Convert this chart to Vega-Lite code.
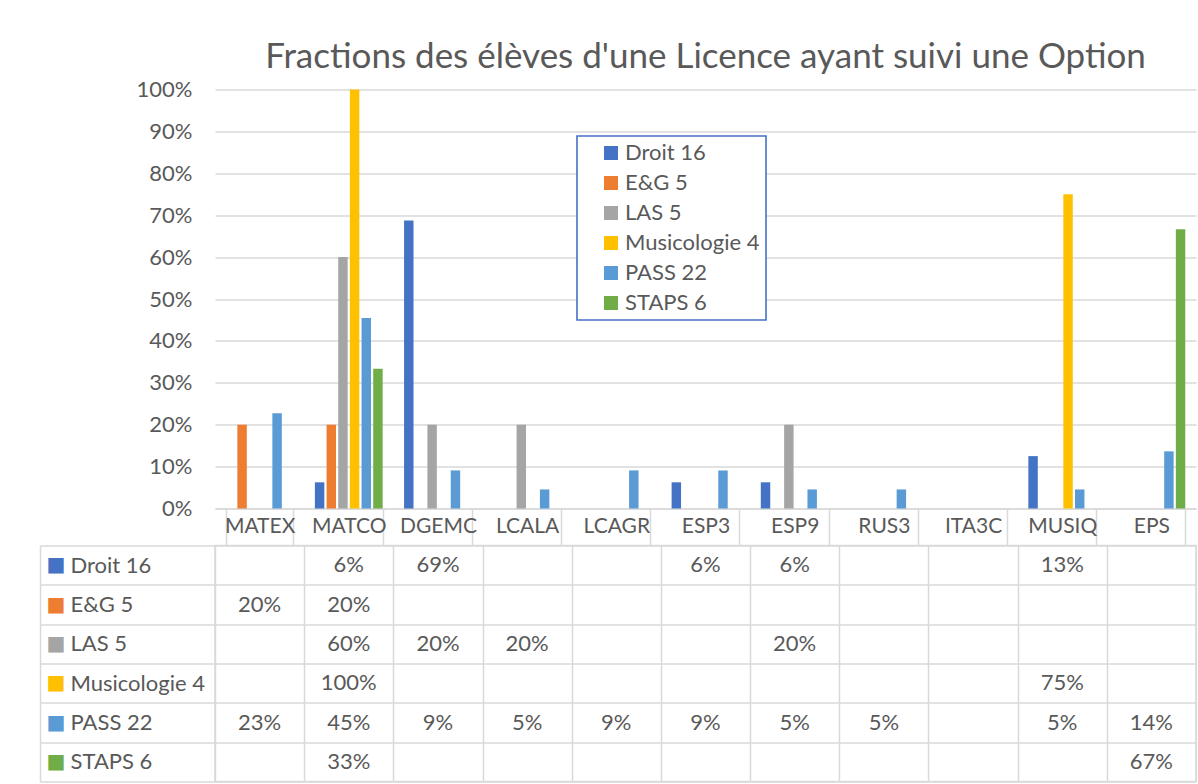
{
  "$schema": "https://vega.github.io/schema/vega-lite/v6.json",
  "background": "white",
  "padding": {"left": 38, "top": 39.5, "right": 0, "bottom": 0},
  "spacing": -14,
  "config": {"font": "Lato", "view": {"stroke": null}, "legend": {"strokeWidth": 1.6}},
  "datasets": {
    "d": [
      {"cat": "MATCO", "series": "Droit 16", "value": 0.0625},
      {"cat": "DGEMC", "series": "Droit 16", "value": 0.6875},
      {"cat": "ESP3", "series": "Droit 16", "value": 0.0625},
      {"cat": "ESP9", "series": "Droit 16", "value": 0.0625},
      {"cat": "MUSIQ", "series": "Droit 16", "value": 0.125},
      {"cat": "MATEX", "series": "E&G 5", "value": 0.2},
      {"cat": "MATCO", "series": "E&G 5", "value": 0.2},
      {"cat": "MATCO", "series": "LAS 5", "value": 0.6},
      {"cat": "DGEMC", "series": "LAS 5", "value": 0.2},
      {"cat": "LCALA", "series": "LAS 5", "value": 0.2},
      {"cat": "ESP9", "series": "LAS 5", "value": 0.2},
      {"cat": "MATCO", "series": "Musicologie 4", "value": 1.0},
      {"cat": "MUSIQ", "series": "Musicologie 4", "value": 0.75},
      {"cat": "MATEX", "series": "PASS 22", "value": 0.2273},
      {"cat": "MATCO", "series": "PASS 22", "value": 0.4545},
      {"cat": "DGEMC", "series": "PASS 22", "value": 0.0909},
      {"cat": "LCALA", "series": "PASS 22", "value": 0.0455},
      {"cat": "LCAGR", "series": "PASS 22", "value": 0.0909},
      {"cat": "ESP3", "series": "PASS 22", "value": 0.0909},
      {"cat": "ESP9", "series": "PASS 22", "value": 0.0455},
      {"cat": "RUS3", "series": "PASS 22", "value": 0.0455},
      {"cat": "MUSIQ", "series": "PASS 22", "value": 0.0455},
      {"cat": "EPS", "series": "PASS 22", "value": 0.1364},
      {"cat": "MATCO", "series": "STAPS 6", "value": 0.3333},
      {"cat": "EPS", "series": "STAPS 6", "value": 0.6667}
    ]
  },
  "vconcat": [
    {
      "width": 981,
      "height": 419,
      "title": {"text": "Fractions des élèves d'une Licence ayant suivi une Option", "fontSize": 35, "font": "Lato", "fontWeight": "normal", "color": "#595959", "anchor": "middle", "offset": 4},
      "data": {"name": "d"},
      "mark": {"type": "bar"},
      "encoding": {
        "x": {
          "field": "cat", "type": "nominal",
          "scale": {"domain": ["MATEX", "MATCO", "DGEMC", "LCALA", "LCAGR", "ESP3", "ESP9", "RUS3", "ITA3C", "MUSIQ", "EPS"], "paddingInner": 0.24, "paddingOuter": 0.12},
          "axis": {"title": null, "labelFontSize": 21, "labelColor": "#595959", "labelAngle": 0, "labelPadding": -18, "labelBaseline": "middle", "tickBand": "extent", "tickSize": 36, "tickColor": "#D9D9D9", "tickWidth": 1.5, "domainColor": "#D9D9D9", "domainWidth": 1.5, "grid": false}
        },
        "xOffset": {
          "field": "series", "type": "nominal",
          "scale": {"domain": ["Droit 16", "E&G 5", "LAS 5", "Musicologie 4", "PASS 22", "STAPS 6"], "paddingInner": 0.19}
        },
        "y": {
          "field": "value", "type": "quantitative",
          "scale": {"domain": [0, 1]},
          "axis": {"title": null, "format": ".0%", "values": [0, 0.1, 0.2, 0.3, 0.4, 0.5, 0.6, 0.7, 0.8, 0.9, 1], "labelFontSize": 22, "labelColor": "#595959", "labelPadding": 23, "ticks": false, "domain": false, "grid": true, "gridColor": "#D9D9D9", "gridWidth": 1.5}
        },
        "color": {
          "field": "series", "type": "nominal",
          "scale": {"domain": ["Droit 16", "E&G 5", "LAS 5", "Musicologie 4", "PASS 22", "STAPS 6"], "range": ["#4472C4", "#ED7D31", "#A5A5A5", "#FFC000", "#5B9BD5", "#70AD47"]},
          "legend": {"orient": "none", "legendX": 362, "legendY": 46.5, "title": null, "symbolType": "square", "symbolSize": 196, "symbolStrokeWidth": 0, "labelFontSize": 22, "labelColor": "#595959", "labelFont": "Lato", "labelExpr": "datum.label + '\u00a0\u00a0\u00a0'", "strokeColor": "#4472C4", "fillColor": "white", "padding": 6, "rowPadding": 8, "symbolOffset": 17, "labelOffset": 3}
        }
      }
    },
    {
      "width": 981,
      "height": 236,
      "view": {"stroke": "#D9D9D9", "strokeWidth": 1.5},
      "data": {"name": "d"},
      "layer": [
        {
          "mark": {"type": "text", "fontSize": 22, "color": "#595959"},
          "encoding": {
            "x": {
              "field": "cat", "type": "nominal",
              "scale": {"domain": ["MATEX", "MATCO", "DGEMC", "LCALA", "LCAGR", "ESP3", "ESP9", "RUS3", "ITA3C", "MUSIQ", "EPS"], "paddingInner": 0, "paddingOuter": 0},
              "axis": {"title": null, "labels": false, "ticks": false, "domain": false, "grid": true, "tickBand": "extent", "gridColor": "#D9D9D9", "gridWidth": 1.5}
            },
            "y": {
              "field": "series", "type": "nominal",
              "scale": {"domain": ["Droit 16", "E&G 5", "LAS 5", "Musicologie 4", "PASS 22", "STAPS 6"], "paddingInner": 0, "paddingOuter": 0},
              "axis": {"title": null, "orient": "left", "grid": true, "gridColor": "#D9D9D9", "gridWidth": 1.5, "tickBand": "extent", "tickSize": 175, "tickColor": "#D9D9D9", "tickWidth": 1.5, "domain": false, "labelAlign": "left", "labelPadding": -30, "labelFontSize": 22, "labelColor": "#595959", "labelBaseline": "middle"}
            },
            "text": {"field": "value", "type": "quantitative", "format": ".0%"}
          }
        },
        {
          "mark": {"type": "text", "opacity": 0},
          "encoding": {
            "y": {
              "field": "series", "type": "nominal",
              "axis": {"title": null, "orient": "left", "offset": 175, "grid": false, "ticks": false, "tickSize": 0, "domain": true, "domainColor": "#D9D9D9", "domainWidth": 1.5, "labelExpr": "'■'", "labelFont": "DejaVu Sans", "labelFontSize": 20, "labelAlign": "left", "labelPadding": -6, "labelBaseline": "middle",
                "labelColor": {"condition": [
                  {"test": "datum.value === 'Droit 16'", "value": "#4472C4"},
                  {"test": "datum.value === 'E&G 5'", "value": "#ED7D31"},
                  {"test": "datum.value === 'LAS 5'", "value": "#A5A5A5"},
                  {"test": "datum.value === 'Musicologie 4'", "value": "#FFC000"},
                  {"test": "datum.value === 'PASS 22'", "value": "#5B9BD5"}
                ], "value": "#70AD47"}
              }
            },
            "text": {"value": ""}
          }
        }
      ],
      "resolve": {"axis": {"y": "independent"}}
    }
  ]
}
